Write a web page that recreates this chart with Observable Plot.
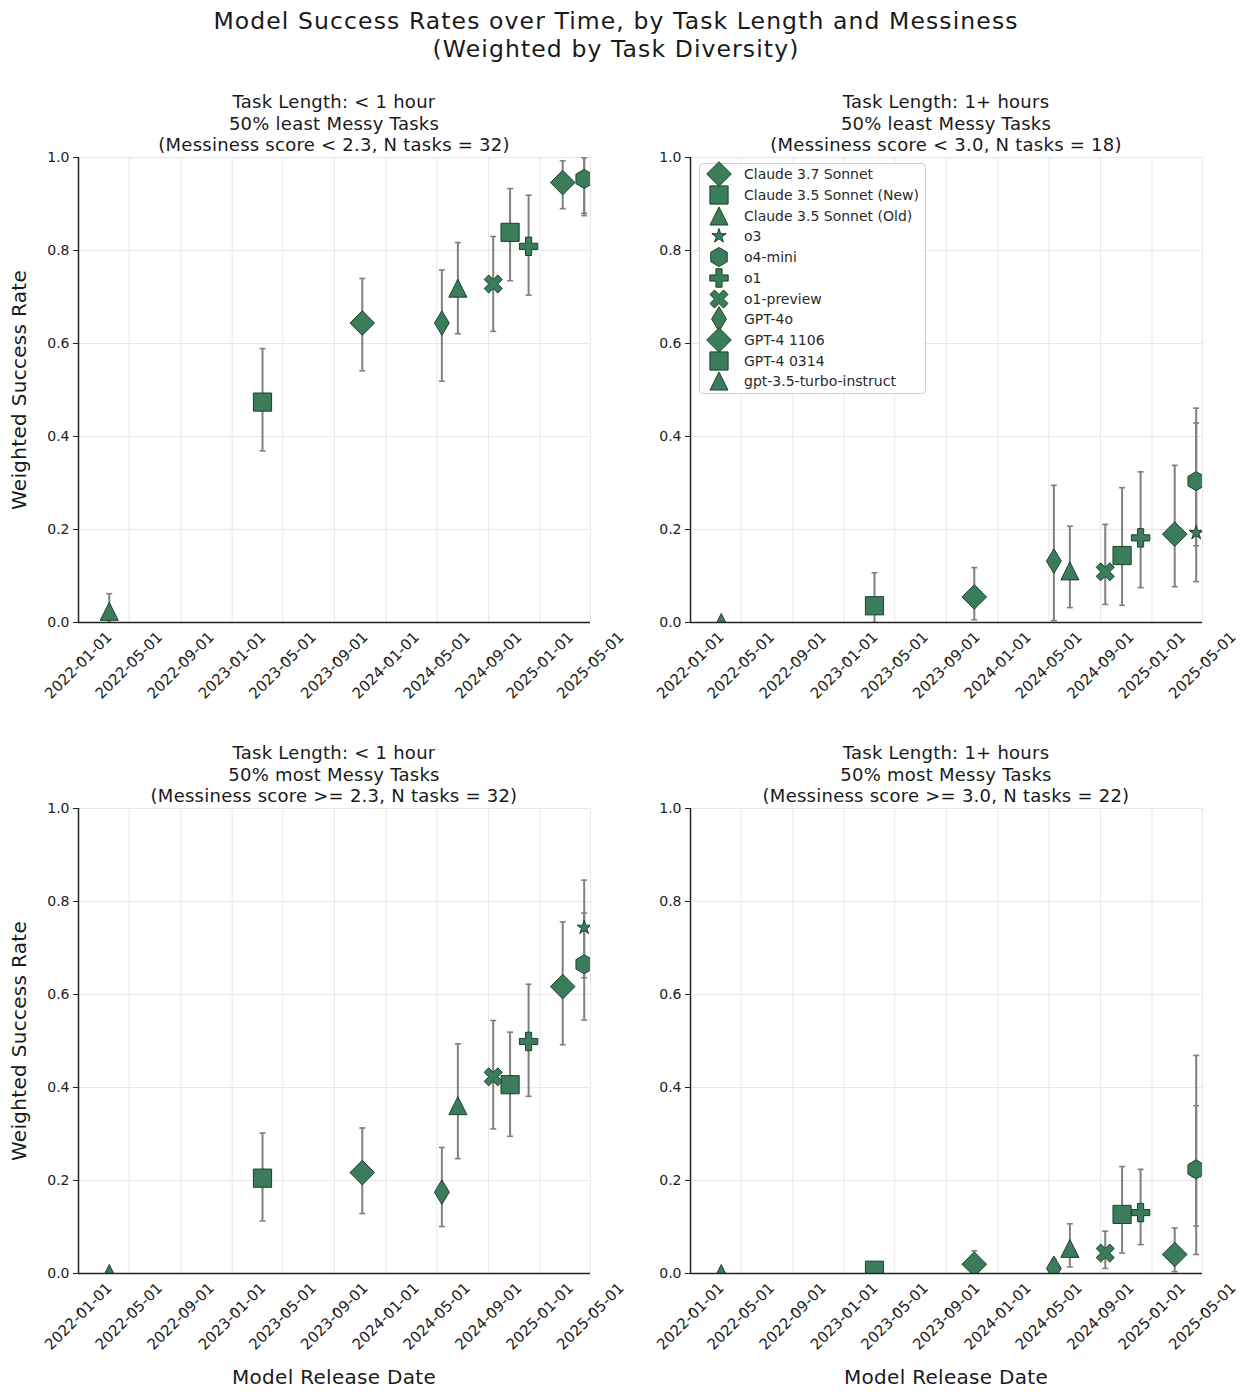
<!DOCTYPE html>
<html>
<head>
<meta charset="utf-8">
<script src="https://cdn.jsdelivr.net/npm/d3@7"></script>
<script src="https://cdn.jsdelivr.net/npm/@observablehq/plot@0.6"></script>
<style>
  html, body { margin: 0; padding: 0; background: #fff; }
  body { font-family: "DejaVu Sans", sans-serif; color: #1a1a1a; }
  #page { position: relative; width: 1249px; height: 1400px; overflow: hidden; }
  .abs { position: absolute; }
  .title { left: 0; width: 1232px; text-align: center; font-size: 23.5px; line-height: 28px; top: 7px; letter-spacing: 1.1px; }
  .ptitle { text-align: center; font-size: 18px; line-height: 21.5px; width: 512px; letter-spacing: 0.25px; }
  .ylab { font-size: 20px; transform: rotate(-90deg); transform-origin: center center; white-space: nowrap; width: 300px; text-align: center; line-height: 24px; letter-spacing: 0.3px; }
  .xlab { font-size: 20px; width: 512px; text-align: center; letter-spacing: 0.3px; }
  .legend { left: 699px; top: 163px; width: 227px; height: 231px; border: 1px solid #d0d0d0; border-radius: 4px; background: rgba(255,255,255,0.85); box-sizing: border-box; }
  .lrow { position: absolute; left: 0; height: 20.7px; display: flex; align-items: center; font-size: 14px; color: #2a2a2a; white-space: nowrap; }
  .lrow svg { margin-left: 5px; margin-right: 11px; }
</style>
</head>
<body>
<div id="page"></div>
<script>
// ---------------- DATA ----------------
const models = ["Claude 3.7 Sonnet", "Claude 3.5 Sonnet (New)", "Claude 3.5 Sonnet (Old)", "o3", "o4-mini", "o1", "o1-preview", "GPT-4o", "GPT-4 1106", "GPT-4 0314", "gpt-3.5-turbo-instruct"];
const releaseDates = ["2025-02-24", "2024-10-22", "2024-06-20", "2025-04-16", "2025-04-16", "2024-12-05", "2024-09-12", "2024-05-13", "2023-11-06", "2023-03-14", "2022-03-15"];
const markerKinds = ["D", "s", "^", "*", "h", "P", "X", "d", "D", "s", "^"];

// Panel 1: < 1 hour, 50% least messy
const p1Rate = [0.946, 0.839, 0.719, 0.955, 0.954, 0.809, 0.728, 0.644, 0.644, 0.474, 0.024];
const p1Low  = [0.890, 0.735, 0.621, 0.880, 0.875, 0.704, 0.626, 0.519, 0.541, 0.369, 0.000];
const p1High = [0.993, 0.933, 0.817, 1.000, 1.000, 0.919, 0.830, 0.758, 0.740, 0.589, 0.062];
// Panel 2: 1+ hours, 50% least messy
const p2Rate = [0.190, 0.144, 0.111, 0.193, 0.304, 0.182, 0.109, 0.132, 0.055, 0.036, 0.000];
const p2Low  = [0.077, 0.037, 0.032, 0.088, 0.165, 0.075, 0.039, 0.004, 0.006, 0.000, 0.000];
const p2High = [0.338, 0.290, 0.207, 0.429, 0.461, 0.324, 0.211, 0.295, 0.118, 0.107, 0.000];
// Panel 3: < 1 hour, 50% most messy
const p3Rate = [0.617, 0.406, 0.361, 0.744, 0.665, 0.499, 0.423, 0.175, 0.217, 0.205, 0.000];
const p3Low  = [0.492, 0.295, 0.247, 0.636, 0.545, 0.381, 0.311, 0.101, 0.129, 0.113, 0.000];
const p3High = [0.756, 0.519, 0.494, 0.846, 0.775, 0.622, 0.544, 0.271, 0.313, 0.302, 0.000];
// Panel 4: 1+ hours, 50% most messy
const p4Rate = [0.041, 0.127, 0.054, 0.220, 0.224, 0.131, 0.044, 0.011, 0.020, 0.007, 0.000];
const p4Low  = [0.004, 0.044, 0.014, 0.041, 0.102, 0.062, 0.011, 0.000, 0.000, 0.000, 0.000];
const p4High = [0.098, 0.230, 0.107, 0.469, 0.361, 0.224, 0.091, 0.030, 0.049, 0.020, 0.000];

const xTicks = ["2022-01-01", "2022-05-01", "2022-09-01", "2023-01-01", "2023-05-01", "2023-09-01", "2024-01-01", "2024-05-01", "2024-09-01", "2025-01-01", "2025-05-01"];
const yTicks = [0, 0.2, 0.4, 0.6, 0.8, 1.0];
const xDomain = ["2022-01-01", "2025-05-01"];

const mainTitle = ["Model Success Rates over Time, by Task Length and Messiness", "(Weighted by Task Diversity)"];
const panelTitles = [
  ["Task Length: < 1 hour", "50% least Messy Tasks", "(Messiness score < 2.3, N tasks = 32)"],
  ["Task Length: 1+ hours", "50% least Messy Tasks", "(Messiness score < 3.0, N tasks = 18)"],
  ["Task Length: < 1 hour", "50% most Messy Tasks", "(Messiness score >= 2.3, N tasks = 32)"],
  ["Task Length: 1+ hours", "50% most Messy Tasks", "(Messiness score >= 3.0, N tasks = 22)"]
];
const yLabel = "Weighted Success Rate";
const xLabel = "Model Release Date";

// ---------------- STYLE ----------------
const FILL = "#3b7d5b";
const EDGE = "#1e3f2d";
const ERR = "#808080";
const FONT = '"DejaVu Sans", sans-serif';

function shape(fn) {
  return { draw(ctx, size) { const s = Math.sqrt(size / Math.PI); fn(ctx, s); } };
}
function poly(ctx, pts) {
  ctx.moveTo(pts[0][0], pts[0][1]);
  for (let i = 1; i < pts.length; i++) ctx.lineTo(pts[i][0], pts[i][1]);
  ctx.closePath();
}
function plusPts(s) {
  const a = s / 3;
  return [[-a,-s],[a,-s],[a,-a],[s,-a],[s,a],[a,a],[a,s],[-a,s],[-a,a],[-s,a],[-s,-a],[-a,-a]];
}
const symbols = {
  "D": shape((c, s) => poly(c, [[0,-s],[s,0],[0,s],[-s,0]])),
  "d": shape((c, s) => poly(c, [[0,-s],[0.6*s,0],[0,s],[-0.6*s,0]])),
  "s": shape((c, s) => c.rect(-s, -s, 2*s, 2*s)),
  "^": shape((c, s) => poly(c, [[0,-s],[s,s],[-s,s]])),
  "*": shape((c, s) => {
    const pts = [];
    for (let i = 0; i < 10; i++) {
      const r = i % 2 ? s * 0.381966 : s;
      const a = -Math.PI/2 + i * Math.PI/5;
      pts.push([r*Math.cos(a), r*Math.sin(a)]);
    }
    poly(c, pts);
  }),
  "h": shape((c, s) => {
    const pts = [];
    for (let i = 0; i < 6; i++) { const a = -Math.PI/2 + i*Math.PI/3; pts.push([s*Math.cos(a), s*Math.sin(a)]); }
    poly(c, pts);
  }),
  "P": shape((c, s) => poly(c, plusPts(s))),
  "X": shape((c, s) => poly(c, plusPts(s).map(([x, y]) => [(x - y)/Math.SQRT2, (x + y)/Math.SQRT2]))),
  "cap": shape((c, s) => { c.moveTo(-s, 0); c.lineTo(s, 0); })
};
const symbolSize = { "D": 12.3, "d": 12.3, "s": 9.1, "^": 9, "*": 7.5, "h": 9.5, "P": 9.2, "X": 9.6 };

const panelData = [[p1Rate, p1Low, p1High], [p2Rate, p2Low, p2High], [p3Rate, p3Low, p3High], [p4Rate, p4Low, p4High]];

// layout of plot areas (left, top of plot frame)
const frames = [[78, 157], [690, 157], [78, 808], [690, 808]];
const PW = 512, PH = 465, ML = 78, MR = 30, MT = 10, MB = 90;

const page = document.getElementById("page");
function addDiv(cls, html, style) {
  const d = document.createElement("div");
  d.className = "abs " + cls;
  d.innerHTML = html;
  Object.assign(d.style, style || {});
  page.appendChild(d);
  return d;
}

addDiv("title", mainTitle.join("<br>"));

panelData.forEach(([rate, low, high], pi) => {
  const rows = models.map((m, i) => ({
    model: m, date: new Date(releaseDates[i]), kind: markerKinds[i],
    rate: rate[i], low: low[i], high: high[i]
  }));
  const errRows = rows.filter(d => d.high > d.low);
  const marks = [
    Plot.gridX(xTicks.map(d => new Date(d)), { stroke: "#e8e8e8", strokeOpacity: 1, strokeWidth: 1 }),
    Plot.gridY(yTicks, { stroke: "#e8e8e8", strokeOpacity: 1, strokeWidth: 1 }),
    Plot.ruleX(errRows, { x: "date", y1: "low", y2: "high", stroke: ERR, strokeWidth: 2, clip: true }),
    Plot.dot(errRows, { x: "date", y: "low", symbol: symbols.cap, r: 3, stroke: ERR, strokeWidth: 1.6, fill: "none", clip: true }),
    Plot.dot(errRows, { x: "date", y: "high", symbol: symbols.cap, r: 3, stroke: ERR, strokeWidth: 1.6, fill: "none", clip: true })
  ];
  rows.forEach(row => {
    marks.push(Plot.dot([row], {
      x: "date", y: "rate", symbol: symbols[row.kind], r: symbolSize[row.kind],
      fill: FILL, stroke: EDGE, strokeWidth: 1, clip: true
    }));
  });
  marks.push(
    Plot.axisY({ ticks: yTicks, tickFormat: d3.format(".1f"), tickSize: 5, tickPadding: 4, label: null, color: "#222", fontSize: 14 }),
    Plot.axisX({ ticks: xTicks.map(d => new Date(d)), tickFormat: d3.utcFormat("%Y-%m-%d"), tickSize: 5, tickPadding: 3,
                 tickRotate: -45, textAnchor: "middle", lineAnchor: "middle", dy: 35, label: null, color: "#222", fontSize: 15 }),
    Plot.ruleX([new Date(xDomain[0])], { stroke: "#222", strokeWidth: 1.5 }),
    Plot.ruleY([0], { stroke: "#222", strokeWidth: 1.5 })
  );
  const chart = Plot.plot({
    width: ML + PW + MR, height: MT + PH + MB,
    marginLeft: ML, marginRight: MR, marginTop: MT, marginBottom: MB,
    x: { type: "utc", domain: xDomain.map(d => new Date(d)) },
    y: { domain: [0, 1] },
    style: { fontFamily: FONT, fontSize: "14px", color: "#222", background: "transparent", overflow: "visible" },
    marks
  });
  const [fl, ft] = frames[pi];
  chart.style.position = "absolute";
  chart.style.left = (fl - ML) + "px";
  chart.style.top = (ft - MT) + "px";
  page.appendChild(chart);

  // panel title
  addDiv("ptitle", panelTitles[pi].join("<br>"), { left: fl + "px", top: (ft - 66) + "px" });
  if (pi % 2 === 0) {
    addDiv("ylab", yLabel, { left: (19 - 150) + "px", top: (ft + PH/2 - 12) + "px" });
  }
  if (pi >= 2) {
    addDiv("xlab", xLabel, { left: fl + "px", top: "1365px" });
  }
});

// legend (in panel 2)
const legend = addDiv("legend", "");
models.forEach((m, i) => {
  const row = document.createElement("div");
  row.className = "lrow";
  row.style.top = (i * 20.7) + "px";
  const k = markerKinds[i];
  const s = symbolSize[k];
  const p = d3.path();
  symbols[k].draw(p, s * s * Math.PI);
  row.innerHTML = `<svg width="28" height="26" viewBox="-14 -13 28 26" style="overflow:visible"><path d="${p.toString()}" fill="${FILL}" stroke="${EDGE}" stroke-width="1"/></svg><span>${m}</span>`;
  legend.appendChild(row);
});
</script>
</body>
</html>
